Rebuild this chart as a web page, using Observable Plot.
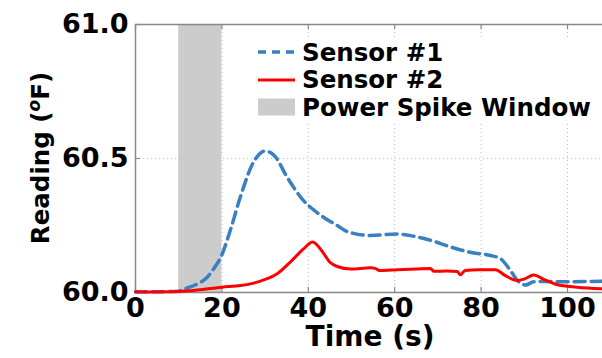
<!DOCTYPE html>
<html><head><meta charset="utf-8">
<script src="https://cdn.jsdelivr.net/npm/d3@7"></script>
<script src="https://cdn.jsdelivr.net/npm/@observablehq/plot@0.6"></script>
<style>
body{margin:0;background:#fff;}
#wrap{position:relative;width:602px;height:358px;font-family:"DejaVu Sans",sans-serif;font-weight:bold;}
#legend{position:absolute;left:252px;top:38px;width:346px;height:84px;background:#fff;}
.row{position:absolute;left:6px;height:27px;display:flex;align-items:center;font-size:24.5px;color:#000;white-space:nowrap;}
.row svg{margin-right:7px;}
</style></head><body><div id="wrap"></div>
<script>
// Sensor #1 (blue dashed)
const time1 = [0, 5, 10, 11.1, 12.5, 14.3, 16.6, 18.5, 19.7, 22, 24.3, 27.3, 28.6, 29.7, 31, 32.3, 35.1, 38.9, 41.5, 43.6, 46.7, 49.2, 54.4, 60.6, 64.4, 68.3, 72.9, 77.5, 82.2, 84.5, 86.8, 88.4, 90.3, 92.2, 95.3, 99.1, 108.1];
const sensor1 = [60.003, 60.003, 60.005, 60.012, 60.02, 60.032, 60.057, 60.098, 60.13, 60.235, 60.358, 60.486, 60.515, 60.527, 60.524, 60.508, 60.43, 60.343, 60.305, 60.28, 60.25, 60.226, 60.213, 60.218, 60.21, 60.195, 60.17, 60.15, 60.138, 60.126, 60.082, 60.045, 60.028, 60.04, 60.041, 60.04, 60.042];
// Sensor #2 (red solid)
const time2 = [0, 10, 14.3, 20, 24.3, 27.4, 29.7, 32.8, 35.8, 38.9, 41, 43.1, 45, 46.7, 49.8, 54.4, 55.5, 56.5, 60.6, 65, 68.3, 69, 72, 74.5, 75.2, 76.3, 79.4, 83.3, 85.6, 88.4, 89.9, 92.2, 94.5, 97.5, 102.2, 108.1];
const sensor2 = [60.002, 60.004, 60.009, 60.02, 60.026, 60.035, 60.047, 60.07, 60.113, 60.163, 60.188, 60.156, 60.113, 60.097, 60.088, 60.092, 60.09, 60.082, 60.085, 60.088, 60.09, 60.079, 60.08, 60.078, 60.066, 60.082, 60.085, 60.085, 60.063, 60.045, 60.05, 60.065, 60.049, 60.03, 60.02, 60.014];
// Power spike window
const spikeStart = [10];
const spikeEnd = [20];
const xTicks = [0, 20, 40, 60, 80, 100];
const yTicks = [60.0, 60.5, 61.0];
const seriesNames = ["Sensor #1", "Sensor #2", "Power Spike Window"];

const blue = "#3a80c0", red = "#ff0000", spanGray = "#cccccc";
const d1 = time1.map((t, i) => ({t, v: sensor1[i]}));
const d2 = time2.map((t, i) => ({t, v: sensor2[i]}));
const spans = spikeStart.map((s, i) => ({x1: s, x2: spikeEnd[i]}));

const chart = Plot.plot({
  width: 602, height: 358,
  marginLeft: 135, marginTop: 24, marginBottom: 66, marginRight: 0,
  style: {fontFamily: "DejaVu Sans, sans-serif", fontWeight: "bold", color: "#000", background: "#fff"},
  x: {domain: [0, 108.1]},
  y: {domain: [60, 61]},
  marks: [
    Plot.rect(spans, {x1: "x1", x2: "x2", fill: spanGray}),
    Plot.ruleX(xTicks.slice(1), {x: d => d, stroke: "#bbb", strokeWidth: 1, strokeDasharray: "1,3"}),
    Plot.ruleY([yTicks[1]], {y: d => d, stroke: "#bbb", strokeWidth: 1, strokeDasharray: "1,3"}),
    Plot.ruleX(xTicks, {x: d => d, y1: 60, y2: 60.02, stroke: "#888", strokeWidth: 1.2}),
    Plot.ruleX(xTicks, {x: d => d, y1: 61, y2: 60.98, stroke: "#888", strokeWidth: 1.2}),
    Plot.ruleY(yTicks, {y: d => d, x1: 0, x2: 1.2, stroke: "#888", strokeWidth: 1.2}),
    Plot.ruleY([61, 60], {y: d => d, stroke: "#888", strokeWidth: 1.5}),
    Plot.ruleX([0], {x: d => d, stroke: "#888", strokeWidth: 1.5}),
    Plot.line(d1, {x: "t", y: "v", stroke: blue, strokeWidth: 3.5, strokeDasharray: "11,6", curve: "monotone-x"}),
    Plot.line(d2, {x: "t", y: "v", stroke: red, strokeWidth: 3, curve: "monotone-x"}),
    Plot.axisX({ticks: xTicks, tickFormat: d3.format("d"), tickSize: 0, tickPadding: 5, fontSize: 27, label: null}),
    Plot.axisY({ticks: yTicks, tickFormat: d3.format(".1f"), tickSize: 0, tickPadding: 7, fontSize: 27, label: null})
  ]
});

const svg = d3.select(chart);
svg.append("text").attr("x", 370).attr("y", 346).attr("text-anchor", "middle")
  .attr("font-size", 28).attr("font-weight", "bold").attr("fill", "#000").text("Time (s)");
const yl = svg.append("text").attr("transform", "translate(49,158) rotate(-90)").attr("text-anchor", "middle")
  .attr("font-size", 24.5).attr("font-weight", "bold").attr("fill", "#000");
yl.append("tspan").text("Reading (");
yl.append("tspan").attr("font-size", 17).attr("font-style", "italic").attr("dy", -9).text("o");
yl.append("tspan").attr("dy", 9).text("F)");

const wrap = document.getElementById("wrap");
wrap.appendChild(chart);
const legend = document.createElement("div");
legend.id = "legend";
const swatches = [
  `<svg width="37" height="20"><line x1="0" y1="10" x2="37" y2="10" stroke="${blue}" stroke-width="3.5" stroke-dasharray="8,6"/></svg>`,
  `<svg width="37" height="20"><line x1="0" y1="10" x2="37" y2="10" stroke="${red}" stroke-width="3"/></svg>`,
  `<svg width="37" height="20"><rect x="0" y="1.5" width="37" height="17" fill="${spanGray}"/></svg>`
];
seriesNames.forEach((name, i) => {
  const r = document.createElement("div");
  r.className = "row";
  r.style.top = (0.5 + i * 27.5) + "px";
  r.innerHTML = swatches[i] + `<span>${name}</span>`;
  legend.appendChild(r);
});
wrap.appendChild(legend);
</script></body></html>
